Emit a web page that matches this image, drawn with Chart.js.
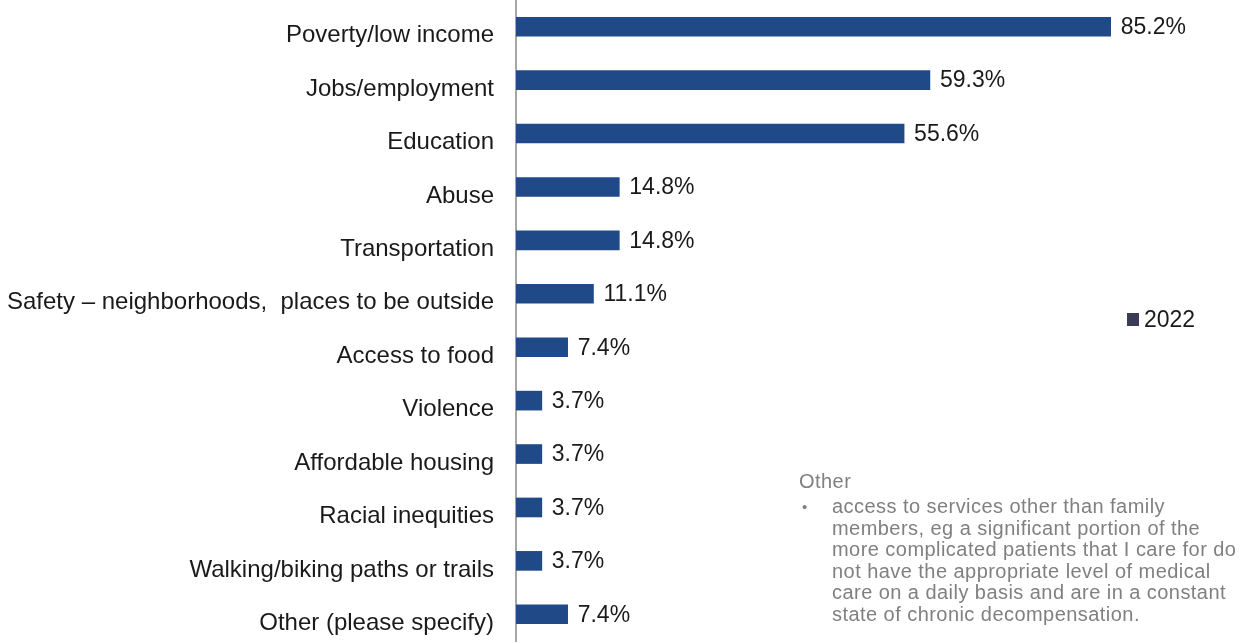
<!DOCTYPE html>
<html>
<head>
<meta charset="utf-8">
<script src="https://cdn.jsdelivr.net/npm/chart.js@4/dist/chart.umd.min.js"></script>
<style>
  html, body { margin: 0; padding: 0; background: #fff; }
  #wrap { position: relative; width: 1256px; height: 643px; overflow: hidden; }
  #note {
    position: absolute; left: 799px; top: 471px; width: 457px;
    font-family: "Liberation Sans", Arial, sans-serif; font-size: 20px;
    letter-spacing: 0.45px; line-height: 21.6px; color: #808080; white-space: nowrap;
  }
  #note .item { position: relative; padding-left: 33px; margin-top: 3.4px; }
  #note .item::before { content: "\2022"; position: absolute; left: 3px; top: 0; font-size: 15px; }
</style>
</head>
<body>
<div id="wrap">
  <canvas id="chart" width="1256" height="643"></canvas>
  <div id="note">
    Other
    <div class="item">access to services other than family<br>members, eg a significant portion of the<br>more complicated patients that I care for do<br>not have the appropriate level of medical<br>care on a daily basis and are in a constant<br>state of chronic decompensation.</div>
  </div>
</div>
<script>
const categories = [
  "Poverty/low income",
  "Jobs/employment",
  "Education",
  "Abuse",
  "Transportation",
  "Safety \u2013 neighborhoods,  places to be outside",
  "Access to food",
  "Violence",
  "Affordable housing",
  "Racial inequities",
  "Walking/biking paths or trails",
  "Other (please specify)"
];
const values2022 = [85.2, 59.3, 55.6, 14.8, 14.8, 11.1, 7.4, 3.7, 3.7, 3.7, 3.7, 7.4];
const seriesName = "2022";

const barColor = "#1f4a87";
const fontFamily = '"Liberation Sans", Arial, sans-serif';

// percentage labels at the end of each bar
const valueLabels = {
  id: "valueLabels",
  afterDatasetsDraw(chart) {
    const ctx = chart.ctx;
    const meta = chart.getDatasetMeta(0);
    ctx.save();
    ctx.font = "23px " + fontFamily;
    ctx.fillStyle = "#1a1a1a";
    ctx.textBaseline = "middle";
    ctx.textAlign = "left";
    meta.data.forEach((bar, i) => {
      ctx.fillText(values2022[i].toFixed(1) + "%", bar.x + 10, bar.y + 1);
    });
    ctx.restore();
  }
};

// small legend on the right side
const sideLegend = {
  id: "sideLegend",
  afterDraw(chart) {
    const ctx = chart.ctx;
    ctx.save();
    ctx.fillStyle = "#3b3b58";
    ctx.fillRect(1127, 313, 12, 13);
    ctx.font = "23px " + fontFamily;
    ctx.fillStyle = "#1a1a1a";
    ctx.textBaseline = "middle";
    ctx.fillText(seriesName, 1144, 321);
    ctx.restore();
  }
};

new Chart(document.getElementById("chart").getContext("2d"), {
  type: "bar",
  data: {
    labels: categories,
    datasets: [
      {
        label: seriesName,
        data: values2022,
        backgroundColor: barColor,
        barThickness: 19
      }
    ]
  },
  options: {
    indexAxis: "y",
    responsive: false,
    animation: false,
    layout: { padding: { top: 0, bottom: 2, right: 42, left: 0 } },
    plugins: {
      legend: { display: false },
      tooltip: { enabled: false }
    },
    scales: {
      x: {
        display: false,
        min: 0,
        max: 100
      },
      y: {
        afterFit(scale) {
          scale.width = 516;
          scale.paddingTop = 0;
          scale.paddingBottom = 0;
        },
        grid: { display: false, drawTicks: false },
        border: { display: true, color: "#a6a6a6", width: 2 },
        ticks: {
          color: "#1a1a1a",
          font: { family: fontFamily, size: 24 },
          padding: 22,
          labelOffset: 9,
          autoSkip: false
        }
      }
    }
  },
  plugins: [valueLabels, sideLegend]
});
</script>
</body>
</html>
